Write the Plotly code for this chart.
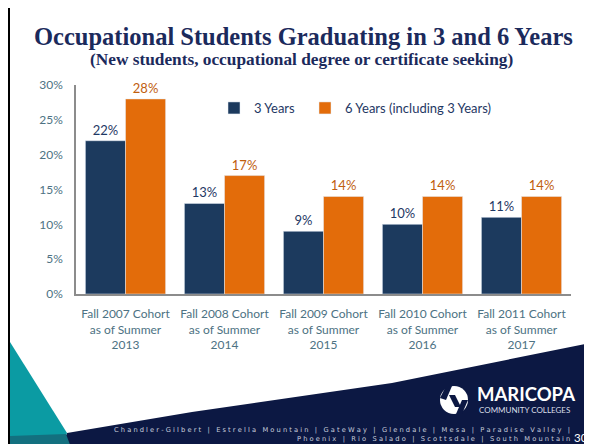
import plotly.graph_objects as go

categories = ["Fall 2007 Cohort<br>as of Summer<br>2013",
              "Fall 2008 Cohort<br>as of Summer<br>2014",
              "Fall 2009 Cohort<br>as of Summer<br>2015",
              "Fall 2010 Cohort<br>as of Summer<br>2016",
              "Fall 2011 Cohort<br>as of Summer<br>2017"]
three_years = [0.22, 0.13, 0.09, 0.10, 0.11]
six_years = [0.28, 0.17, 0.14, 0.14, 0.14]
series_names = ["3 Years", "6 Years (including 3 Years)"]
y_ticks = [0, 0.05, 0.10, 0.15, 0.20, 0.25, 0.30]

# page body offsets the figure by 8px; coordinates below are window pixels
OFF = 8
W, H = 592 - OFF, 444 - OFF
L, T = 76 - OFF, 85 - OFF
PW, PH = 495, 209
R, B = W - L - PW, H - T - PH


def px(x):
    return (x - OFF - L) / PW


def py(y):
    return (T + PH - (y - OFF)) / PH


def path(points):
    return "M " + " L ".join(f"{px(a):.5f},{py(b):.5f}" for a, b in points) + " Z"


NAVY_BAR = "#1c3a5e"
ORANGE = "#e36c0a"
TICK = "#4d7283"
FONT = "Lato"
FOOT_NAVY = "#0c1843"

fig = go.Figure()
fig.add_trace(go.Bar(
    x=categories, y=three_years, name=series_names[0], legend="legend",
    marker=dict(color=NAVY_BAR),
    text=[f"{v*100:.0f}%" for v in three_years], textposition="outside",
    textfont=dict(color="#1f3864", size=13, family=FONT), cliponaxis=False,
))
fig.add_trace(go.Bar(
    x=categories, y=six_years, name=series_names[1], legend="legend2",
    marker=dict(color=ORANGE),
    text=[f"{v*100:.0f}%" for v in six_years], textposition="outside",
    textfont=dict(color="#c0600f", size=13, family=FONT), cliponaxis=False,
))

shapes = []
shapes.append(dict(type="path", xref="paper", yref="paper", layer="above",
                   path=path([(60, 450), (67, 433), (192, 412), (392, 383), (600, 341), (600, 450)]),
                   fillcolor=FOOT_NAVY, line=dict(width=0)))
shapes.append(dict(type="path", xref="paper", yref="paper", layer="above",
                   path=path([(10, 342), (67, 433), (60, 450), (10, 450)]),
                   fillcolor="#0b9ba3", line=dict(width=0)))
shapes.append(dict(type="path", xref="paper", yref="paper", layer="above",
                   path=path([(10, 436), (66, 434), (72, 450), (10, 450)]),
                   fillcolor="#13707f", line=dict(width=0)))
# logo icon
shapes.append(dict(type="circle", xref="paper", yref="paper", layer="above",
                   x0=px(440), x1=px(468), y0=py(386), y1=py(414),
                   fillcolor="white", line=dict(width=0)))
shapes.append(dict(type="path", xref="paper", yref="paper", layer="above",
                   path=path([(446, 386), (452, 386), (446, 400), (440, 398)]),
                   fillcolor=FOOT_NAVY, line=dict(width=0)))
shapes.append(dict(type="path", xref="paper", yref="paper", layer="above",
                   path=path([(449, 395), (455, 395), (461, 407), (455, 407)]),
                   fillcolor=FOOT_NAVY, line=dict(width=0)))
shapes.append(dict(type="path", xref="paper", yref="paper", layer="above",
                   path=path([(468, 400), (462, 414), (456, 414), (462, 400)]),
                   fillcolor=FOOT_NAVY, line=dict(width=0)))
# slide borders
shapes.append(dict(type="line", xref="paper", yref="paper", layer="above",
                   x0=px(7), x1=px(600), y0=py(4.5), y1=py(4.5),
                   line=dict(color="black", width=3)))
shapes.append(dict(type="line", xref="paper", yref="paper", layer="above",
                   x0=px(8.5), x1=px(8.5), y0=py(3), y1=py(450),
                   line=dict(color="black", width=3)))

annotations = [
    dict(text="<b>Occupational Students Graduating in 3 and 6 Years</b>",
         x=px(303), y=py(36), xref="paper", yref="paper", showarrow=False,
         xanchor="center", yanchor="middle",
         font=dict(family="Liberation Serif", size=24.5, color="#1b2a5c")),
    dict(text="<b>(New students, occupational degree or certificate seeking)</b>",
         x=px(301), y=py(60), xref="paper", yref="paper", showarrow=False,
         xanchor="center", yanchor="middle",
         font=dict(family="Liberation Serif", size=17.3, color="#1b2a5c")),
    dict(text="<b>MARICOPA</b>", x=px(475), y=py(394), xref="paper", yref="paper",
         showarrow=False, xanchor="left", yanchor="middle",
         font=dict(family="Lato", size=18.5, color="white")),
    dict(text="COMMUNITY COLLEGES", x=px(477), y=py(410), xref="paper", yref="paper",
         showarrow=False, xanchor="left", yanchor="middle",
         font=dict(family="Lato", size=8, color="#d8dde8")),
    dict(text=" ".join("Chandler-Gilbert | Estrella Mountain | GateWay | Glendale | Mesa | Paradise Valley |"),
         x=px(572), y=py(430), xref="paper", yref="paper",
         showarrow=False, xanchor="right", yanchor="middle",
         font=dict(family="DejaVu Sans", size=6.7, color="#c9cfdd")),
    dict(text=" ".join("Phoenix | Rio Salado | Scottsdale | South Mountain"),
         x=px(572), y=py(439), xref="paper", yref="paper",
         showarrow=False, xanchor="right", yanchor="middle",
         font=dict(family="DejaVu Sans", size=6.7, color="#c9cfdd")),
    dict(text="30", x=px(590), y=py(437), xref="paper", yref="paper",
         showarrow=False, xanchor="right", yanchor="middle",
         font=dict(family="Lato", size=11.5, color="white")),
]

legend_common = dict(orientation="h", xanchor="left", yanchor="middle",
                     font=dict(size=13, color="#1f3864", family=FONT),
                     bgcolor="rgba(0,0,0,0)", itemwidth=30)

fig.update_layout(
    width=W, height=H,
    margin=dict(l=L, r=R, t=T, b=B, autoexpand=False),
    paper_bgcolor="white", plot_bgcolor="white",
    barmode="group", bargap=0.19, bargroupgap=0,
    font=dict(family=FONT, color=TICK),
    showlegend=True,
    legend=dict(x=px(214), y=py(108), **legend_common),
    legend2=dict(x=px(305), y=py(108), **legend_common),
    xaxis=dict(showline=True, linecolor="#8c8c8c", linewidth=1.5, ticks="",
               tickfont=dict(size=12, color=TICK, family=FONT), showgrid=False,
               ticklabelstandoff=8),
    yaxis=dict(range=[0, 0.30], tickvals=y_ticks, tickformat=".0%",
               showline=True, linecolor="#8c8c8c", linewidth=1.5, ticks="",
               showgrid=False, zeroline=False, ticklabelstandoff=9,
               tickfont=dict(size=12, color=TICK, family=FONT)),
    shapes=shapes, annotations=annotations,
)

fig.write_html("out.html")
